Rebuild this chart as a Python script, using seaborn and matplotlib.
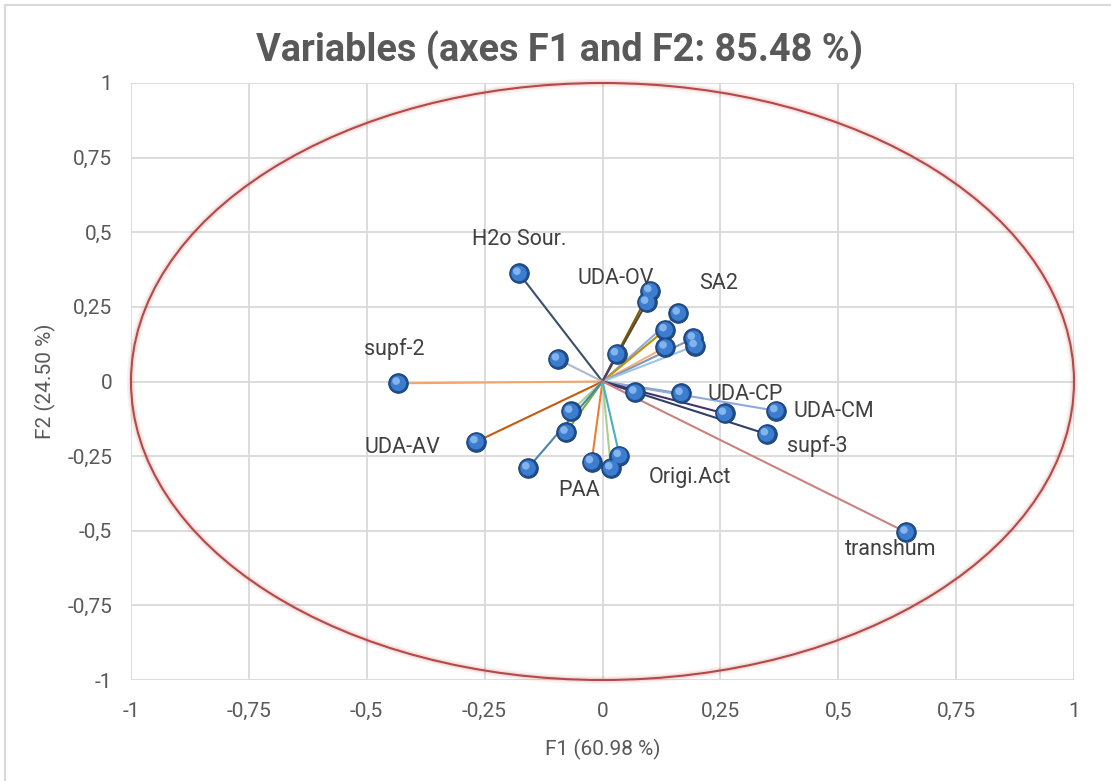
import matplotlib
matplotlib.use("Agg")
import matplotlib.pyplot as plt
from matplotlib.patches import Circle
from matplotlib.lines import Line2D
from matplotlib.transforms import ScaledTranslation
import seaborn as sns
import pandas as pd

# Correlation circle: loadings of each variable on F1 and F2
labels = ["H2o Sour.", "UDA-OV", "", "SA2", "", "", "", "", "", "",
          "supf-2", "UDA-AV", "", "", "", "PAA", "", "Origi.Act", "",
          "UDA-CP", "UDA-CM", "", "supf-3", "transhum"]
f1 = [-0.177, 0.101, 0.094, 0.161, 0.133, 0.133, 0.193, 0.197, 0.030, -0.095,
      -0.433, -0.268, -0.067, -0.077, -0.158, -0.023, 0.018, 0.036, 0.069,
      0.167, 0.368, 0.259, 0.348, 0.644]
f2 = [0.362, 0.304, 0.265, 0.229, 0.173, 0.115, 0.145, 0.120, 0.092, 0.075,
      -0.006, -0.202, -0.100, -0.170, -0.290, -0.269, -0.290, -0.248, -0.036,
      -0.040, -0.098, -0.107, -0.176, -0.505]
line_colors = ["#3B4E6B", "#7F6000", "#5A4A2A", "#8FAADC", "#BF9000", "#F4B183",
               "#8497B0", "#9DC3E6", "#4B3F72", "#ADB9CA", "#F0A56B", "#C55A11",
               "#A9D18E", "#70AD47", "#4A86A8", "#ED7D31", "#A9D18E", "#4BACC6",
               "#7030A0", "#7F9FC0", "#8FAADC", "#44336B", "#2F3F6B", "#C9827F"]
# label placement (pixels from the point)
label_dx = [0, -34, 0, 40, 0, 0, 0, 0, 0, 0, -4, -74, 0, 0, 0, -13, 0, 71, 0,
            64, 58, 0, 51, -15]
label_dy = [34, 12, 0, 30, 0, 0, 0, 0, 0, 0, 34, -6, 0, 0, 0, -29, 0, -22, 0,
            -1, -1, 0, -12, -17]

ticks = [-1, -0.75, -0.5, -0.25, 0, 0.25, 0.5, 0.75, 1]
tick_labels = ["-1", "-0,75", "-0,5", "-0,25", "0", "0,25", "0,5", "0,75", "1"]
title = "Variables (axes F1 and F2: 85.48 %)"
xlabel = "F1 (60.98 %)"
ylabel = "F2 (24.50 %)"

df = pd.DataFrame({"F1": f1, "F2": f2, "label": labels})

sns.set_theme(style="white")
plt.rcParams["font.family"] = ["Roboto", "DejaVu Sans"]

TXT = "#595959"
GRID = "#D9D9D9"

fig = plt.figure(figsize=(11.11, 7.81), dpi=100)
ax = fig.add_axes([131 / 1111, 1 - 680 / 781, (1074 - 131) / 1111, (680 - 83) / 781])

ax.set_xlim(-1, 1)
ax.set_ylim(-1, 1)
ax.set_xticks(ticks)
ax.set_yticks(ticks)
ax.set_xticklabels(tick_labels)
ax.set_yticklabels(tick_labels)
ax.tick_params(axis="both", length=0, labelsize=15, colors=TXT)
ax.tick_params(axis="x", pad=16)
ax.tick_params(axis="y", pad=13.5)
for s in ax.spines.values():
    s.set_visible(False)
ax.grid(True, color=GRID, lw=1.3, zorder=0)
ax.set_axisbelow(True)

# unit circle with a soft halo
for lw, a in [(6, 0.07), (3.5, 0.13)]:
    ax.add_patch(Circle((0, 0), 1, fill=False, edgecolor="#C0504D", lw=lw,
                        alpha=a, clip_on=False, zorder=2))
ax.add_patch(Circle((0, 0), 1, fill=False, edgecolor="#B44A47", lw=1.5,
                    clip_on=False, zorder=3))

# vectors from the origin
for x, y, c in zip(f1, f2, line_colors):
    ax.add_line(Line2D([0, x], [0, y], color=c, lw=1.5, zorder=4))

# points rendered as shaded spheres
sns.scatterplot(data=df, x="F1", y="F2", ax=ax, s=200, color="#1F4E8C",
                edgecolor="#173E73", linewidth=0.6, zorder=5, legend=False)
sns.scatterplot(data=df, x="F1", y="F2", ax=ax, s=125, color="#3C7DD0",
                edgecolor="none", zorder=6, legend=False)
hl = ax.transData + ScaledTranslation(-1.6 / 72, 1.6 / 72, fig.dpi_scale_trans)
ax.scatter(df["F1"], df["F2"], s=30, color="#8CBBF2", edgecolor="none",
           alpha=0.9, zorder=7, transform=hl)

for x, y, lab, dx, dy in zip(f1, f2, labels, label_dx, label_dy):
    if lab:
        ax.annotate(lab, (x, y), xytext=(dx, dy), textcoords="offset pixels",
                    ha="center", va="center", fontsize=15.5, color="#404040",
                    zorder=8)

ax.set_xlabel(xlabel, fontsize=15, color=TXT, labelpad=13)
ax.set_ylabel(ylabel, fontsize=15, color=TXT, labelpad=8)
fig.text(560 / 1111, 1 - 50 / 781, title, ha="center", va="center",
         fontsize=27.3, fontweight="bold", color=TXT)

# chart frame
fig.add_artist(Line2D([5 / 1111, 5 / 1111], [0, 1 - 5 / 781], transform=fig.transFigure,
                      color=GRID, lw=1.5))
fig.add_artist(Line2D([5 / 1111, 1], [1 - 5 / 781, 1 - 5 / 781], transform=fig.transFigure,
                      color=GRID, lw=1.5))

fig.savefig("out.png", dpi=100, facecolor="white")
